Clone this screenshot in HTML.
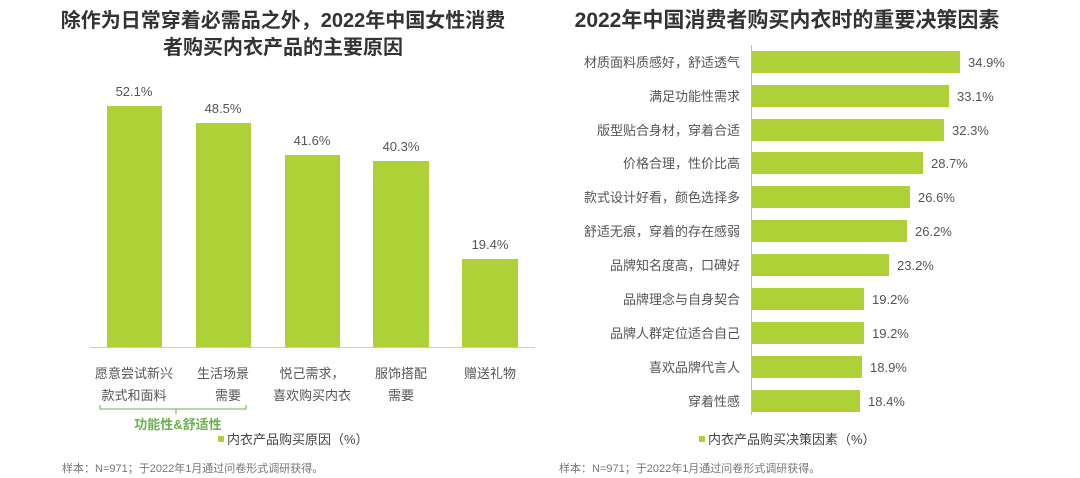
<!DOCTYPE html>
<html><head><meta charset="utf-8"><style>
body{margin:0;background:#fff;width:1080px;height:478px;overflow:hidden}
svg{display:block}
text{font-family:"Liberation Sans","Noto Sans CJK SC",sans-serif}
</style></head><body>
<svg width="1080" height="478" viewBox="0 0 1080 478">
<g fill="#333" font-weight="bold" font-size="20" text-anchor="middle">
<text x="283" y="27">除作为日常穿着必需品之外，2022年中国女性消费</text>
<text x="283" y="54">者购买内衣产品的主要原因</text>
<text x="787" y="27" font-size="21">2022年中国消费者购买内衣时的重要决策因素</text>
</g>
<g fill="#add136">
<rect x="107" y="106" width="55" height="241"/>
<rect x="196" y="123" width="55" height="224"/>
<rect x="285" y="155" width="55" height="192"/>
<rect x="373" y="161" width="56" height="186"/>
<rect x="462" y="259" width="56" height="88"/>
</g>
<line x1="90" y1="347.5" x2="535" y2="347.5" stroke="#ccc" stroke-width="1"/>
<g fill="#555" font-size="13" text-anchor="middle">
<text x="134" y="96">52.1%</text>
<text x="223" y="113">48.5%</text>
<text x="312" y="145">41.6%</text>
<text x="401" y="151">40.3%</text>
<text x="490" y="249">19.4%</text>
<text x="134" y="378">愿意尝试新兴</text>
<text x="134" y="400">款式和面料</text>
<text x="223" y="378">生活场景</text>
<text x="228" y="400">需要</text>
<text x="312" y="378">悦己需求，</text>
<text x="312" y="400">喜欢购买内衣</text>
<text x="401" y="378">服饰搭配</text>
<text x="401" y="400">需要</text>
<text x="490" y="378">赠送礼物</text>
</g>
<path d="M100 405 V409 H246 V405 M176 409 V414" fill="none" stroke="#6ab04c" stroke-width="1"/>
<text x="178" y="429" font-size="13" font-weight="bold" fill="#6ab04c" text-anchor="middle">功能性&amp;舒适性</text>
<rect x="218" y="436" width="6" height="6" fill="#add136"/>
<text x="227" y="444" font-size="13" fill="#444">内衣产品购买原因（%）</text>
<text x="62" y="472" font-size="11" fill="#777">样本：N=971；于2022年1月通过问卷形式调研获得。</text>
<text x="559" y="472" font-size="11" fill="#777">样本：N=971；于2022年1月通过问卷形式调研获得。</text>
<line x1="751.5" y1="45" x2="751.5" y2="415" stroke="#bbb"/>
<g fill="#add136">
<rect x="752" y="51" width="208" height="22"/>
<rect x="752" y="85" width="197" height="22"/>
<rect x="752" y="119" width="192" height="22"/>
<rect x="752" y="152" width="171" height="22"/>
<rect x="752" y="186" width="158" height="22"/>
<rect x="752" y="220" width="155" height="22"/>
<rect x="752" y="254" width="137" height="22"/>
<rect x="752" y="288" width="112" height="22"/>
<rect x="752" y="322" width="112" height="22"/>
<rect x="752" y="356" width="110" height="22"/>
<rect x="752" y="390" width="108" height="22"/>
</g>
<g fill="#555" font-size="13">
<text x="968" y="67">34.9%</text>
<text x="957" y="101">33.1%</text>
<text x="952" y="135">32.3%</text>
<text x="931" y="168">28.7%</text>
<text x="918" y="202">26.6%</text>
<text x="915" y="236">26.2%</text>
<text x="897" y="270">23.2%</text>
<text x="872" y="304">19.2%</text>
<text x="872" y="338">19.2%</text>
<text x="870" y="372">18.9%</text>
<text x="868" y="406">18.4%</text>
</g>
<g fill="#555" font-size="13" text-anchor="end">
<text x="740" y="67">材质面料质感好，舒适透气</text>
<text x="740" y="101">满足功能性需求</text>
<text x="740" y="135">版型贴合身材，穿着合适</text>
<text x="740" y="168">价格合理，性价比高</text>
<text x="740" y="202">款式设计好看，颜色选择多</text>
<text x="740" y="236">舒适无痕，穿着的存在感弱</text>
<text x="740" y="270">品牌知名度高，口碑好</text>
<text x="740" y="304">品牌理念与自身契合</text>
<text x="740" y="338">品牌人群定位适合自己</text>
<text x="740" y="372">喜欢品牌代言人</text>
<text x="740" y="406">穿着性感</text>
</g>
<rect x="699" y="436" width="6" height="6" fill="#add136"/>
<text x="708" y="444" font-size="13" fill="#444">内衣产品购买决策因素（%）</text>
</svg>
</body></html>
